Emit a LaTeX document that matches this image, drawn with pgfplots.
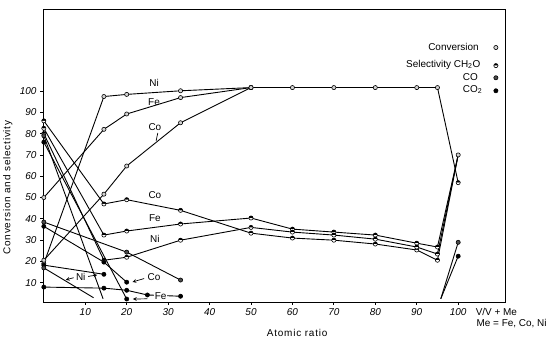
\documentclass[border=0pt]{standalone}
\usepackage{fontspec}
\setmainfont{Liberation Sans}
\newfontfamily\spaced[LetterSpace=8]{Liberation Sans}
\usepackage{pgfplots}
\pgfplotsset{compat=1.18}
\usetikzlibrary{plotmarks}
\pgfplotsset{
  conv/.style={mark=*, mark size=2.1pt, mark options={fill=gray!35, draw=black, line width=0.6pt}},
  sel/.style={mark=halfcircle*, mark size=2.1pt, mark options={fill=black, draw=black, line width=0.6pt}},
  co/.style={mark=*, mark size=2.1pt, mark options={fill=black!70, draw=black, line width=0.6pt}},
  cotwo/.style={mark=*, mark size=2.1pt, mark options={fill=black, draw=black, line width=0.6pt}},
}
\begin{document}
\begin{tikzpicture}
\begin{axis}[
  scale only axis, width=462bp, height=292bp,
  xmin=-0.2, xmax=111.3, ymin=1, ymax=138,
  xtick={10,20,...,100}, ytick={10,20,...,100},
  tick pos=left, tick align=outside, major tick length=3pt,
  axis line style={line width=1pt},
  tick style={line width=0.8pt, black},
  every tick label/.append style={font=\itshape\fontsize{10}{12}\selectfont},
  /pgf/number format/assume math mode=true,
  clip=false,
  every axis plot/.append style={black, line width=0.9pt},
  xlabel={\spaced\fontsize{10}{12}\selectfont Atomic ratio},
  xlabel style={at={(axis description cs:0.55,-0.106)}, anchor=center},
  ylabel={\spaced\fontsize{10}{12}\selectfont Conversion and selectivity},
  ylabel style={at={(axis description cs:-0.076,0.392)}, anchor=center},
]
% ---- Conversion ----
\addplot[conv] coordinates {(0,19) (14.5,97.4) (20,98.4) (33,100.1) (50,101.6)};
\addplot[conv] coordinates {(0,50) (14.5,82) (20,89.2) (33,96.9) (50,101.6)};
\addplot[conv] coordinates {(0,20.6) (14.5,51.6) (20,64.8) (33,85.1) (50,101.6)};
\addplot[conv] coordinates {(50,101.6) (60,101.6) (70,101.6) (80,101.6) (90,101.6) (95,101.6)};
\addplot[mark=none] coordinates {(95,101.6) (100,57)};
% ---- Selectivity CH2O ----
\addplot[sel] coordinates {(0,86) (14.5,47) (20,49) (33,44) (50,33.3) (60,31) (70,30) (80,28.2) (90,25.4) (95,20.6)};
\addplot[sel] coordinates {(0,82.5) (14.5,32.4) (20,34.3) (33,37.6) (50,40.4) (60,35.2) (70,33.8) (80,32.4) (90,28.6) (95,26.8)};
\addplot[sel] coordinates {(0,80) (14.5,20.6) (20,22) (33,30) (50,36) (60,33.8) (70,32.4) (80,30.5) (90,26.8) (95,23.5)};
\addplot[mark=none] coordinates {(95,20.6) (100,70)};
\addplot[mark=none] coordinates {(95,26.8) (100,70)};
\addplot[mark=none] coordinates {(95,23.5) (100,70)};
% ---- CO / CO2 ----
\addplot[co, mark indices={1}] coordinates {(0,79) (14.3,2.5)};
\addplot[cotwo, mark indices={1,2}] coordinates {(0,76) (20,2.4)};
\addplot[co] coordinates {(0,38.5) (20,24.4) (33,11.3)};
\addplot[cotwo] coordinates {(0,36.5) (14.5,19.7) (20,10.3)};
\addplot[cotwo] coordinates {(0,18.3) (14.5,14)};
\addplot[co, mark indices={1}] coordinates {(0,17) (12,3)};
\addplot[cotwo] coordinates {(0,8) (14.5,7.5) (20,6.5) (25,4.3) (33,3.7)};
\addplot[mark=none] coordinates {(95.8,2.5) (100,29)};
\addplot[mark=none] coordinates {(95.8,2.5) (100,22.5)};
% end markers at 100
\addplot[only marks, conv] coordinates {(100,70)};
\addplot[only marks, sel] coordinates {(100,57)};
\addplot[only marks, co] coordinates {(100,29)};
\addplot[only marks, cotwo] coordinates {(100,22.5)};
% legend markers
\addplot[only marks, conv] coordinates {(109.1,120.4)};
\addplot[only marks, sel] coordinates {(109.1,111.9)};
\addplot[only marks, co] coordinates {(109.1,106.2)};
\addplot[only marks, cotwo] coordinates {(109.1,100.1)};
% legend text
\node[anchor=east, font=\fontsize{10}{12}\selectfont] at (axis cs:105.8,120.6) {Conversion};
\node[anchor=east, font=\fontsize{10}{12}\selectfont] at (axis cs:106.2,112.4) {Selectivity CH\textsubscript{2}O};
\node[anchor=west, font=\fontsize{10}{12}\selectfont] at (axis cs:100.3,106.4) {CO};
\node[anchor=west, font=\fontsize{10}{12}\selectfont] at (axis cs:100.3,100.6) {CO\textsubscript{2}};
% series labels
\node[font=\fontsize{10}{12}\selectfont] at (axis cs:26.6,104) {Ni};
\node[font=\fontsize{10}{12}\selectfont] at (axis cs:26.6,94.8) {Fe};
\node[font=\fontsize{10}{12}\selectfont] at (axis cs:26.8,83.2) {Co};
\draw[line width=0.7pt] (axis cs:27.5,80.3) -- (axis cs:27.1,76.6);
\node[font=\fontsize{10}{12}\selectfont] at (axis cs:26.8,51.2) {Co};
\node[font=\fontsize{10}{12}\selectfont] at (axis cs:26.8,40.4) {Fe};
\node[font=\fontsize{10}{12}\selectfont] at (axis cs:26.8,30.5) {Ni};
\node[font=\fontsize{10}{12}\selectfont, inner sep=1pt] at (axis cs:8.9,12.7) {Ni};
\draw[line width=0.7pt, -stealth] (axis cs:7.2,12.4) -- (axis cs:5.3,11.4);
\draw[line width=0.7pt, -stealth] (axis cs:10.7,13.0) -- (axis cs:12.9,13.7);
\node[font=\fontsize{10}{12}\selectfont] at (axis cs:26.6,12.7) {Co};
\draw[line width=0.7pt, -stealth] (axis cs:24.2,12.0) -- (axis cs:21.4,10.4);
\node[font=\fontsize{10}{12}\selectfont, fill=white, inner sep=1pt] at (axis cs:28.2,3.9) {Fe};
\draw[line width=0.7pt, -stealth] (axis cs:25.0,2.5) -- (axis cs:21.5,2.4);
% axis notes
\node[anchor=west, font=\fontsize{10}{12}\selectfont] at (axis cs:103.4,-3.8) {V/V + Me};
\node[anchor=west, font=\fontsize{10}{12}\selectfont] at (axis cs:103.6,-9.0) {Me = Fe, Co, Ni};
\end{axis}
\pgfresetboundingbox
\path (current axis.south west) ++(-43bp,-41bp) rectangle ++(550bp,343bp);
\end{tikzpicture}
\end{document}
